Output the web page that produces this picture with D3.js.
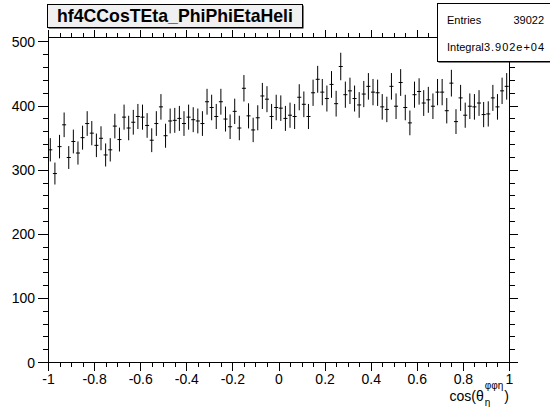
<!DOCTYPE html>
<html lang="en">
<head>
<meta charset="utf-8">
<title>hf4CCosTEta_PhiPhiEtaHeli</title>
<script src="https://d3js.org/d3.v7.min.js"></script>
<style>
  body { margin: 0; background: #fff; }
  svg { display: block; font-family: "Liberation Sans", Arial, sans-serif; }
  .axis path, .axis line { stroke: #000; shape-rendering: crispEdges; }
  .axis text { font-size: 14px; fill: #000; }
</style>
</head>
<body>
<svg width="550" height="407"></svg>
<script>
// histogram: 100 bins from -1 to 1
const binLow = -1;
const binHigh = 1;
const counts = [
  331, 294, 336, 370, 319, 344, 326, 350, 372, 357,
  338, 349, 323, 331, 368, 347, 382, 365, 374, 383,
  382, 369, 346, 372, 398, 353, 376, 377, 380, 372,
  382, 378, 376, 372, 406, 397, 383, 406, 379, 367,
  391, 365, 427, 384, 362, 381, 415, 410, 383, 397,
  396, 380, 385, 383, 413, 402, 383, 420, 441, 421,
  411, 433, 403, 461, 417, 423, 411, 401, 418, 430,
  421, 420, 398, 394, 430, 399, 436, 397, 373, 417,
  422, 404, 409, 399, 421, 421, 392, 435, 375, 412,
  385, 399, 398, 404, 386, 387, 412, 398, 423, 430
];
const xTicks = [-1, -0.8, -0.6, -0.4, -0.2, 0, 0.2, 0.4, 0.6, 0.8, 1];
const xTickLabels = ["-1", "-0.8", "-0.6", "-0.4", "-0.2", "0", "0.2", "0.4", "0.6", "0.8", "1"];
const yTicks = [0, 100, 200, 300, 400, 500];
const yMax = 507;
const histTitle = "hf4CCosTEta_PhiPhiEtaHeli";
const statNames = ["Entries", "Integral"];
const statValues = ["39022", "3.902e+04"];

const svg = d3.select("svg");
const fLeft = 48, fRight = 509, fTop = 37, fBottom = 362;

const x = d3.scaleLinear().domain([binLow, binHigh]).range([fLeft, fRight]);
const y = d3.scaleLinear().domain([0, yMax]).range([fBottom, fTop]);

const nBins = counts.length;
const bw = (binHigh - binLow) / nBins;
const bins = counts.map(function(c, i) {
  return { lo: binLow + i * bw, hi: binLow + (i + 1) * bw, mid: binLow + (i + 0.5) * bw, n: c, e: Math.sqrt(c) };
});

const xMinor = d3.range(0, 41).map(function(i) { return binLow + i * 0.05; });
const yMinor = d3.range(0, 26).map(function(i) { return i * 20; });

// frame
svg.append("rect")
  .attr("x", fLeft).attr("y", fTop)
  .attr("width", fRight - fLeft).attr("height", fBottom - fTop)
  .attr("fill", "none").attr("stroke", "#000").attr("shape-rendering", "crispEdges");

// axes: all ticks point outward
function addAxis(axisFn, scale, vals, size, transform, labels) {
  const ax = axisFn(scale).tickValues(vals).tickSizeInner(size).tickSizeOuter(0);
  if (labels) ax.tickFormat(function(d, i) { return labels[i]; }).tickPadding(3);
  else ax.tickFormat("");
  const g = svg.append("g").attr("class", "axis").attr("transform", transform).call(ax);
  g.select(".domain").remove();
  return g;
}
addAxis(d3.axisBottom, x, xMinor, 5, "translate(0," + fBottom + ")");
addAxis(d3.axisBottom, x, xTicks, 9, "translate(0," + fBottom + ")", xTickLabels);
addAxis(d3.axisTop, x, xMinor, 4, "translate(0," + fTop + ")");
addAxis(d3.axisTop, x, xTicks, 7, "translate(0," + fTop + ")");
addAxis(d3.axisLeft, y, yMinor, 5, "translate(" + fLeft + ",0)");
addAxis(d3.axisLeft, y, yTicks, 10, "translate(" + fLeft + ",0)", yTicks.map(String))
  .selectAll("text").attr("dy", "0.36em");
addAxis(d3.axisRight, y, yMinor, 6, "translate(" + fRight + ",0)");
addAxis(d3.axisRight, y, yTicks, 9, "translate(" + fRight + ",0)");

// data: error bars
const pts = svg.append("g").attr("stroke", "#000").attr("stroke-width", 1);
pts.selectAll("line.ey").data(bins).enter().append("line")
  .attr("x1", function(d) { return x(d.mid); }).attr("x2", function(d) { return x(d.mid); })
  .attr("y1", function(d) { return y(d.n - d.e); }).attr("y2", function(d) { return y(d.n + d.e); });
pts.selectAll("line.ex").data(bins).enter().append("line")
  .attr("x1", function(d) { return x(d.lo) + 0.3; }).attr("x2", function(d) { return x(d.hi) - 0.3; })
  .attr("y1", function(d) { return y(d.n); }).attr("y2", function(d) { return y(d.n); });

// x axis title cos(theta_eta^{phi phi eta})
const tg = svg.append("g").attr("font-size", 14);
const t1 = tg.append("text").attr("y", 401).text("cos(\u03b8");
const w1 = t1.node().getComputedTextLength();
const sub = tg.append("text").attr("y", 406).attr("font-size", 10).text("\u03b7");
const sup = tg.append("text").attr("y", 389).attr("font-size", 10).text("\u03c6\u03c6\u03b7");
const w2 = Math.max(sub.node().getComputedTextLength(), sup.node().getComputedTextLength());
const t3 = tg.append("text").attr("y", 401).text(")");
const w3 = t3.node().getComputedTextLength();
const x0 = fRight - (w1 + w2 + w3 + 2);
t1.attr("x", x0);
sub.attr("x", x0 + w1 + 1);
sup.attr("x", x0 + w1 + 1);
t3.attr("x", x0 + w1 + w2 + 2);

// title box
svg.append("rect").attr("x", 48.5).attr("y", 5.5).attr("width", 255).attr("height", 23).attr("fill", "#000");
svg.append("rect").attr("x", 47.5).attr("y", 4.5).attr("width", 255).attr("height", 23)
  .attr("fill", "#f0f0f0").attr("stroke", "#000");
const tt = svg.append("text").attr("x", 175).attr("y", 21.5).attr("text-anchor", "middle")
  .attr("font-weight", "bold").attr("font-size", 17).text(histTitle);
const tw = tt.node().getComputedTextLength();
tt.attr("font-size", 17 * 236 / tw);

// stats box
svg.append("rect").attr("x", 438.5).attr("y", 4.5).attr("width", 112).attr("height", 58).attr("fill", "#000");
svg.append("rect").attr("x", 437.5).attr("y", 3.5).attr("width", 113).attr("height", 58)
  .attr("fill", "#fff").attr("stroke", "#000");
const sg = svg.append("g").attr("font-size", 11);
sg.selectAll("text.n").data(statNames).enter().append("text")
  .attr("x", 447).attr("y", function(d, i) { return 24 + i * 27; }).text(function(d) { return d; });
sg.selectAll("text.v").data(statValues).enter().append("text")
  .attr("x", 544).attr("text-anchor", "end")
  .attr("y", function(d, i) { return 24 + i * 27; })
  .attr("textLength", function(d, i) { return i === 1 ? 60 : null; })
  .attr("lengthAdjust", "spacing")
  .text(function(d) { return d; });
</script>
</body>
</html>
